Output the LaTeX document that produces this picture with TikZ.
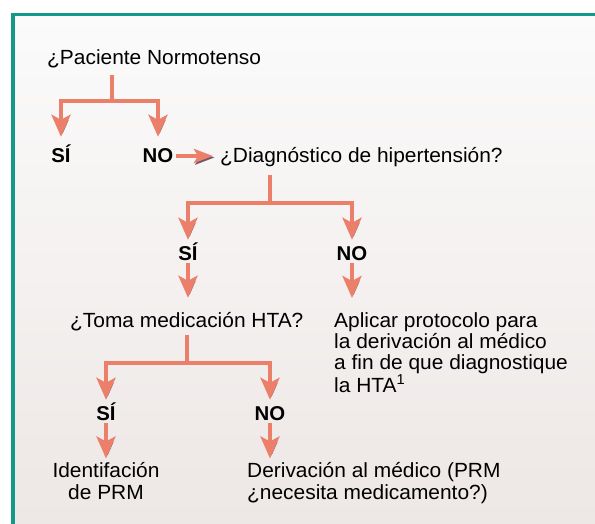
\documentclass[tikz,border=0pt]{standalone}
\usepackage{fontspec}
\setmainfont{Liberation Sans}[FakeStretch=1.02]
\usetikzlibrary{arrows.meta}
\definecolor{frame}{HTML}{12998B}
\definecolor{salmon}{HTML}{EC7F69}
\definecolor{drop}{HTML}{6E5870}
\definecolor{bgtop}{HTML}{FBFBFB}
\definecolor{bgbot}{HTML}{EDE7E5}
\tikzset{
  txt/.style={inner sep=0pt, font=\fontsize{20.5}{21.3}\selectfont, text height=14pt, text depth=5pt},
  blk/.style={inner sep=0pt, font=\fontsize{20.5}{21.3}\selectfont},
  ans/.style={inner sep=0pt, font=\fontsize{20}{21.3}\selectfont\bfseries, text height=14pt, text depth=0pt},
  link/.style={draw=salmon, line width=4pt, line join=miter,
    preaction={draw=drop, transform canvas={shift={(1.5pt,-1.5pt)}}}},
  arr/.style={link, -{Stealth[length=22pt,width=19pt,inset=5pt]}},
  arrh/.style={link, -{Stealth[length=19pt,width=14pt,inset=4pt]}},
}

\begin{document}
\begin{tikzpicture}[x=1pt,y=-1pt]
  \useasboundingbox (0,0) rectangle (595,524);
  \shade[top color=bgtop, bottom color=bgbot] (13,14) rectangle (595,524);
  \draw[frame, line width=3.5pt] (13,524) -- (13,14.5) -- (595,14.5);

  % level 1
  \node[txt, anchor=base west] (q1) at (47,65) {¿Paciente Normotenso};
  \node[ans, anchor=base] (si1) at (61,163) {SÍ};
  \node[ans, anchor=base] (no1) at (158,163) {NO};
  \node[txt, anchor=base west] (q2) at (220,163) {¿Diagnóstico de hipertensión?};
  \coordinate (b1) at (112,101);
  \draw[link, shorten <=5pt] (q1.south -| b1) -- (b1);
  \draw[arr, shorten >=12pt] (b1) -| (si1.north);
  \draw[arr, shorten >=12pt] (b1) -| (no1.north);
  \draw[arrh, shorten <=2pt, shorten >=7pt] (no1.east) -- (no1.east -| q2.west);

  % level 2
  \node[ans, anchor=base] (si2) at (188,260) {SÍ};
  \node[ans, anchor=base] (no2) at (352,260) {NO};
  \node[txt, anchor=base west] (q3) at (70,327) {¿Toma medicación HTA?};
  \node[blk, anchor=north west, align=left] (act) at (334,312)
    {Aplicar protocolo para\\la derivación al médico\\a fin de que diagnostique\\la HTA\textsuperscript{1}};
  \coordinate (b2) at (270,203);
  \draw[link, shorten <=7pt] (q2.south -| b2) -- (b2);
  \draw[arr, shorten >=6pt] (b2) -| (si2.north);
  \draw[arr, shorten >=6pt] (b2) -| (no2.north);
  \draw[arr, shorten <=3pt, shorten >=15pt] (si2.south) -- (q3.north -| si2.south);
  \draw[arr, shorten <=3pt, shorten >=14pt] (no2.south) -- (act.north -| no2.south);

  % level 3
  \node[ans, anchor=base] (si3) at (106,420) {SÍ};
  \node[ans, anchor=base] (no3) at (270,420) {NO};
  \node[blk, anchor=north, align=center] (out1) at (106,462.5) {Identifación\\de PRM};
  \node[blk, anchor=north west, align=left] (out2) at (247,462.5)
    {Derivación al médico (PRM\\¿necesita medicamento?)};
  \coordinate (b3) at (187,363);
  \draw[link, shorten <=3pt] (q3.south -| b3) -- (b3);
  \draw[arr, shorten >=6pt] (b3) -| (si3.north);
  \draw[arr, shorten >=6pt] (b3) -| (no3.north);
  \draw[arr, shorten <=3pt, shorten >=4pt] (si3.south) -- (out1.north -| si3.south);
  \draw[arr, shorten <=3pt, shorten >=4pt] (no3.south) -- (out2.north -| no3.south);
\end{tikzpicture}
\end{document}
